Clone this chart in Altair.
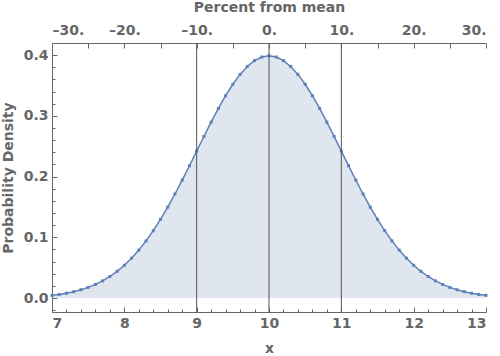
import altair as alt
import pandas as pd

# ---- data ----
x_vals = [7.0, 7.1, 7.2, 7.3, 7.4, 7.5, 7.6, 7.7, 7.8, 7.9,
          8.0, 8.1, 8.2, 8.3, 8.4, 8.5, 8.6, 8.7, 8.8, 8.9,
          9.0, 9.1, 9.2, 9.3, 9.4, 9.5, 9.6, 9.7, 9.8, 9.9,
          10.0, 10.1, 10.2, 10.3, 10.4, 10.5, 10.6, 10.7, 10.8, 10.9,
          11.0, 11.1, 11.2, 11.3, 11.4, 11.5, 11.6, 11.7, 11.8, 11.9,
          12.0, 12.1, 12.2, 12.3, 12.4, 12.5, 12.6, 12.7, 12.8, 12.9, 13.0]
density = [0.00443, 0.00595, 0.00792, 0.01042, 0.01358, 0.01753, 0.02239, 0.02833, 0.03547, 0.04398,
           0.05399, 0.06562, 0.07895, 0.09405, 0.11092, 0.12952, 0.14973, 0.17137, 0.19419, 0.21785,
           0.24197, 0.26609, 0.28969, 0.31225, 0.33322, 0.35207, 0.36827, 0.38139, 0.39104, 0.39695,
           0.39894, 0.39695, 0.39104, 0.38139, 0.36827, 0.35207, 0.33322, 0.31225, 0.28969, 0.26609,
           0.24197, 0.21785, 0.19419, 0.17137, 0.14973, 0.12952, 0.11092, 0.09405, 0.07895, 0.06562,
           0.05399, 0.04398, 0.03547, 0.02833, 0.02239, 0.01753, 0.01358, 0.01042, 0.00792, 0.00595, 0.00443]
ref_lines = [9, 10, 11]
x_major = [7, 8, 9, 10, 11, 12, 13]
x_minor = [7.2, 7.4, 7.6, 7.8, 8.2, 8.4, 8.6, 8.8, 9.2, 9.4, 9.6, 9.8,
           10.2, 10.4, 10.6, 10.8, 11.2, 11.4, 11.6, 11.8, 12.2, 12.4, 12.6, 12.8]
y_major = [0.0, 0.1, 0.2, 0.3, 0.4]
y_minor = [-0.02, 0.02, 0.04, 0.06, 0.08, 0.12, 0.14, 0.16, 0.18, 0.22, 0.24, 0.26, 0.28,
           0.32, 0.34, 0.36, 0.38]
pct_ticks = [-30, -25, -20, -15, -10, -5, 0, 5, 10, 15, 20, 25, 30]

W, H = 434, 269
GRAY = "#666666"
BLUE = "#5e81b5"
FONT = "DejaVu Sans"

df = pd.DataFrame({"x": x_vals, "y": density})
df_ref = pd.DataFrame({"r": ref_lines})
df_pct = pd.DataFrame({"p": pct_ticks})

def xs():
    return alt.Scale(domain=[7, 13], nice=False, zero=False)

def ys():
    return alt.Scale(domain=[-0.023, 0.42], nice=False, zero=False)

area = alt.Chart(df).mark_area(color=BLUE, opacity=0.2).encode(
    x=alt.X("x:Q", scale=xs(), axis=alt.Axis(
        orient="bottom", values=x_major, title="x", format="d",
        tickSize={"expr": "-5"}, labelPadding=9, titlePadding=11)),
    y=alt.Y("y:Q", scale=ys(), axis=alt.Axis(
        orient="left", values=y_major, title="Probability Density", format=".1f",
        tickSize={"expr": "-5"}, labelPadding=9, titlePadding=8)),
    y2=alt.datum(0),
)

line = alt.Chart(df).mark_line(color=BLUE, strokeWidth=1.5).encode(
    x=alt.X("x:Q", scale=xs(), axis=None),
    y=alt.Y("y:Q", scale=ys(), axis=None),
)

pts = alt.Chart(df).mark_square(color=BLUE, size=9, opacity=1).encode(
    x=alt.X("x:Q", scale=xs(), axis=None),
    y=alt.Y("y:Q", scale=ys(), axis=None),
)

rules = alt.Chart(df_ref).mark_rule(color="#555555", strokeWidth=1).encode(
    x=alt.X("r:Q", scale=xs(), axis=None),
    y=alt.value(0),
    y2=alt.value(H),
)

minor = alt.Chart(df).mark_point(opacity=0).encode(
    x=alt.X("x:Q", scale=xs(), axis=alt.Axis(
        orient="bottom", values=x_minor, labels=False, domain=False, title=None,
        tickSize={"expr": "-3"})),
    y=alt.Y("y:Q", scale=ys(), axis=alt.Axis(
        orient="left", values=y_minor, labels=False, domain=False, title=None,
        tickSize={"expr": "-3"})),
)

top = alt.Chart(df_pct).mark_point(opacity=0).encode(
    x=alt.X("p:Q", scale=alt.Scale(domain=[-30, 30], nice=False, zero=False),
            axis=alt.Axis(orient="top", values=pct_ticks, title="Percent from mean",
                          labelExpr="datum.value % 10 == 0 ? (datum.value < 0 ? '\u2013' + (-datum.value) : '' + datum.value) + '.' : ''",
                          tickSize={"expr": "-5"}, labelPadding=11, titlePadding=9)),
)

chart = alt.layer(area, line, pts, rules, minor, top).resolve_scale(
    x="independent", y="independent"
).resolve_axis(
    x="independent", y="independent"
).properties(
    width=W, height=H,
    padding={"left": 52, "top": 43, "right": 14, "bottom": 44},
    autosize="none",
).configure_axis(
    grid=False,
    labelFont=FONT, labelFontWeight="bold", labelFontSize=14, labelColor=GRAY,
    titleFont=FONT, titleFontWeight="bold", titleFontSize=14, titleColor=GRAY,
    domainColor=GRAY, tickColor=GRAY, domainWidth=1, tickWidth=1,
).configure_view(stroke=None)

chart.save("out.html", embed_options={"renderer": "svg", "actions": False})
